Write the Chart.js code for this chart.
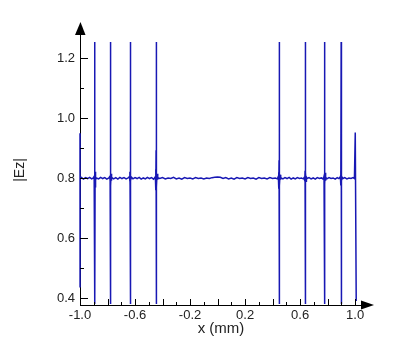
<!DOCTYPE html>
<html>
<head>
<meta charset="utf-8">
<script src="https://cdn.jsdelivr.net/npm/chart.js@4.4.1/dist/chart.umd.min.js"></script>
<style>
  html, body { margin: 0; padding: 0; background: #fff; }
  #wrap { width: 396px; height: 356px; }
</style>
</head>
<body>
<div id="wrap"><canvas id="chart"></canvas></div>
<script>
// posiciones x (mm)
const xPos = [
  -1.000, -1.000, -0.999, -0.990, -0.975, -0.960, -0.945, -0.930, -0.915, -0.903,
  -0.897, -0.895, -0.894, -0.893, -0.892, -0.8915, -0.8912, -0.8905, -0.8895, -0.888, -0.886, -0.884,
  -0.880, -0.865, -0.850, -0.835, -0.820, -0.805, -0.790,
  -0.783, -0.781, -0.780, -0.779, -0.7785, -0.7780, -0.7775, -0.7770, -0.7765, -0.7755, -0.774, -0.772, -0.769,
  -0.755, -0.740, -0.725, -0.710, -0.695, -0.680, -0.665, -0.650,
  -0.640, -0.638, -0.637, -0.636, -0.6345, -0.6340, -0.6335, -0.632, -0.630, -0.627,
  -0.615, -0.600, -0.585, -0.570, -0.555, -0.540, -0.525, -0.510, -0.495, -0.480, -0.465,
  -0.452, -0.450, -0.449, -0.448, -0.447, -0.4465, -0.4455, -0.4450, -0.4445, -0.4435, -0.442, -0.440, -0.437, -0.433,
  -0.42, -0.40, -0.38, -0.36, -0.34, -0.32, -0.30, -0.28, -0.26, -0.24, -0.22, -0.20, -0.18, -0.16, -0.14,
  -0.12, -0.10, -0.08, -0.06, -0.04, -0.02, 0.00, 0.02, 0.04, 0.06, 0.08, 0.10, 0.12, 0.14, 0.16, 0.18,
  0.20, 0.22, 0.24, 0.26, 0.28, 0.30, 0.32, 0.34, 0.36, 0.38, 0.40, 0.42, 0.435,
  0.442, 0.444, 0.445, 0.446, 0.447, 0.4475, 0.4485, 0.449, 0.4495, 0.4505, 0.452, 0.454, 0.457, 0.461,
  0.475, 0.490, 0.505, 0.520, 0.535, 0.550, 0.565, 0.580, 0.595, 0.610, 0.622, 0.630,
  0.633, 0.635, 0.636, 0.637, 0.6385, 0.639, 0.6395, 0.641, 0.643, 0.646, 0.652,
  0.665, 0.680, 0.695, 0.710, 0.725, 0.740, 0.755, 0.765, 0.772,
  0.774, 0.776, 0.777, 0.778, 0.7785, 0.779, 0.7795, 0.780, 0.7805, 0.782, 0.784, 0.787, 0.795,
  0.810, 0.825, 0.840, 0.855, 0.870, 0.882, 0.890,
  0.893, 0.895, 0.896, 0.897, 0.8985, 0.899, 0.8995, 0.901, 0.903, 0.906, 0.912,
  0.925, 0.940, 0.955, 0.970, 0.985, 0.995, 1.001, 1.008
];

// |Ez| en cada posicion
const ezAbs = [
  0.950, 0.435, 0.800, 0.803, 0.797, 0.802, 0.799, 0.803, 0.798, 0.801,
  0.806, 0.790, 0.815, 0.780, 0.825, 1.255, 0.380, 0.772, 0.822, 0.785, 0.810, 0.795,
  0.801, 0.798, 0.803, 0.799, 0.802, 0.797, 0.801,
  0.806, 0.790, 0.820, 0.775, 1.220, 0.390, 1.255, 0.380, 0.830, 0.775, 0.815, 0.792, 0.803,
  0.798, 0.802, 0.797, 0.803, 0.799, 0.802, 0.798, 0.801,
  0.806, 0.790, 0.822, 0.776, 1.255, 0.380, 0.782, 0.818, 0.792, 0.804,
  0.798, 0.802, 0.799, 0.803, 0.797, 0.801, 0.798, 0.803, 0.799, 0.802, 0.797,
  0.805, 0.790, 0.830, 0.760, 0.893, 0.730, 1.255, 0.380, 0.727, 0.860, 0.770, 0.815, 0.795, 0.802,
  0.799, 0.802, 0.798, 0.801, 0.799, 0.803, 0.798, 0.801, 0.797, 0.802, 0.799, 0.801, 0.798, 0.802, 0.799,
  0.801, 0.798, 0.801, 0.799, 0.802, 0.803, 0.804, 0.803, 0.799, 0.802, 0.798, 0.801, 0.797, 0.802, 0.799, 0.801,
  0.798, 0.802, 0.799, 0.801, 0.797, 0.802, 0.799, 0.801, 0.798, 0.802, 0.799, 0.801, 0.798,
  0.806, 0.790, 0.820, 0.765, 0.860, 0.740, 1.255, 0.380, 0.737, 0.850, 0.775, 0.812, 0.795, 0.802,
  0.798, 0.802, 0.799, 0.803, 0.797, 0.801, 0.798, 0.802, 0.799, 0.801, 0.798, 0.803,
  0.806, 0.790, 0.825, 0.772, 1.255, 0.380, 0.780, 0.820, 0.790, 0.804, 0.799,
  0.802, 0.798, 0.801, 0.797, 0.802, 0.799, 0.801, 0.798, 0.803,
  0.807, 0.790, 0.822, 0.775, 1.140, 0.550, 1.255, 0.380, 0.780, 0.818, 0.792, 0.803, 0.798,
  0.802, 0.799, 0.801, 0.797, 0.802, 0.799, 0.803,
  0.806, 0.790, 0.825, 0.776, 1.255, 0.380, 0.780, 0.818, 0.792, 0.803, 0.799,
  0.802, 0.798, 0.801, 0.799, 0.802, 0.799, 0.953, 0.390
];

// etiquetas visibles en los ejes
const xTickLabels = ["-1.0", "-0.6", "-0.2", "0.2", "0.6", "1.0"];
const yTickLabels = ["0.4", "0.6", "0.8", "1.0", "1.2"];

const fontFamily = "'Liberation Sans', Arial, sans-serif";
const textColor = "#222";

// marcas de los ejes hacia dentro y flechas al final
const axisMarks = {
    id: "axisMarks",
    afterDraw(chart) {
        const { ctx, chartArea: a, scales: { x, y } } = chart;
        ctx.save();
        ctx.strokeStyle = "#000";
        ctx.lineWidth = 1;
        ctx.beginPath();
        y.ticks.forEach(t => {
            const py = Math.round(y.getPixelForValue(t.value)) + 0.5;
            const major = Math.round(t.value * 10) % 2 === 0;
            ctx.moveTo(a.left, py);
            ctx.lineTo(a.left + (major ? 8 : 4), py);
        });
        x.ticks.forEach(t => {
            const px = Math.round(x.getPixelForValue(t.value)) + 0.5;
            const major = Math.round(t.value * 10) % 2 === 0;
            ctx.moveTo(px, a.bottom);
            ctx.lineTo(px, a.bottom - (major ? 6 : 3));
        });
        ctx.stroke();

        ctx.fillStyle = "#000";
        // flecha eje y
        ctx.beginPath();
        ctx.moveTo(a.left - 5, a.top);
        ctx.lineTo(a.left + 5.5, a.top);
        ctx.lineTo(a.left + 0.5, a.top - 13);
        ctx.closePath();
        ctx.fill();
        // flecha eje x
        ctx.beginPath();
        ctx.moveTo(a.right - 1, a.bottom - 4.5);
        ctx.lineTo(a.right - 1, a.bottom + 4.5);
        ctx.lineTo(a.right + 12, a.bottom);
        ctx.closePath();
        ctx.fill();
        ctx.restore();
    }
};

new Chart(document.getElementById("chart"), {
    type: "line",
    data: {
        datasets: [{
            data: xPos.map((x, i) => ({ x: x, y: ezAbs[i] })),
            borderColor: "#1818b4",
            borderWidth: 1.5,
            pointRadius: 0,
            tension: 0,
            fill: false,
            clip: { left: 3, right: 3, top: 0, bottom: 0 }
        }]
    },
    options: {
        responsive: true,
        maintainAspectRatio: false,
        animation: false,
        layout: { padding: { left: 0, right: 34, top: 35, bottom: 0 } },
        plugins: {
            legend: { display: false },
            tooltip: { enabled: false }
        },
        scales: {
            x: {
                type: "linear",
                min: -1.0,
                max: 1.05,
                grid: { display: true, drawOnChartArea: false, drawTicks: false },
                border: { display: true, color: "#000", width: 1 },
                ticks: {
                    stepSize: 0.1,
                    includeBounds: false,
                    autoSkip: false,
                    maxRotation: 0,
                    padding: 3,
                    color: textColor,
                    font: { family: fontFamily, size: 13 },
                    callback: v => {
                        const s = v.toFixed(1);
                        return xTickLabels.includes(s) ? s : "";
                    }
                },
                title: {
                    display: true,
                    text: "x (mm)",
                    color: textColor,
                    font: { family: fontFamily, size: 15 },
                    padding: { top: 0, bottom: 18 }
                },
                afterFit: scale => { scale.height = 51; }
            },
            y: {
                type: "linear",
                min: 0.377,
                max: 1.278,
                grid: { display: true, drawOnChartArea: false, drawTicks: false },
                border: { display: true, color: "#000", width: 1 },
                ticks: {
                    stepSize: 0.1,
                    includeBounds: false,
                    autoSkip: false,
                    padding: 5,
                    color: textColor,
                    font: { family: fontFamily, size: 13 },
                    callback: v => {
                        const s = v.toFixed(1);
                        return yTickLabels.includes(s) ? s : "";
                    }
                },
                title: {
                    display: true,
                    text: "|Ez|",
                    color: textColor,
                    font: { family: fontFamily, size: 14 },
                    padding: { top: 12, bottom: 0 }
                },
                afterFit: scale => { scale.width = 80; }
            }
        }
    },
    plugins: [axisMarks]
});
</script>
</body>
</html>
